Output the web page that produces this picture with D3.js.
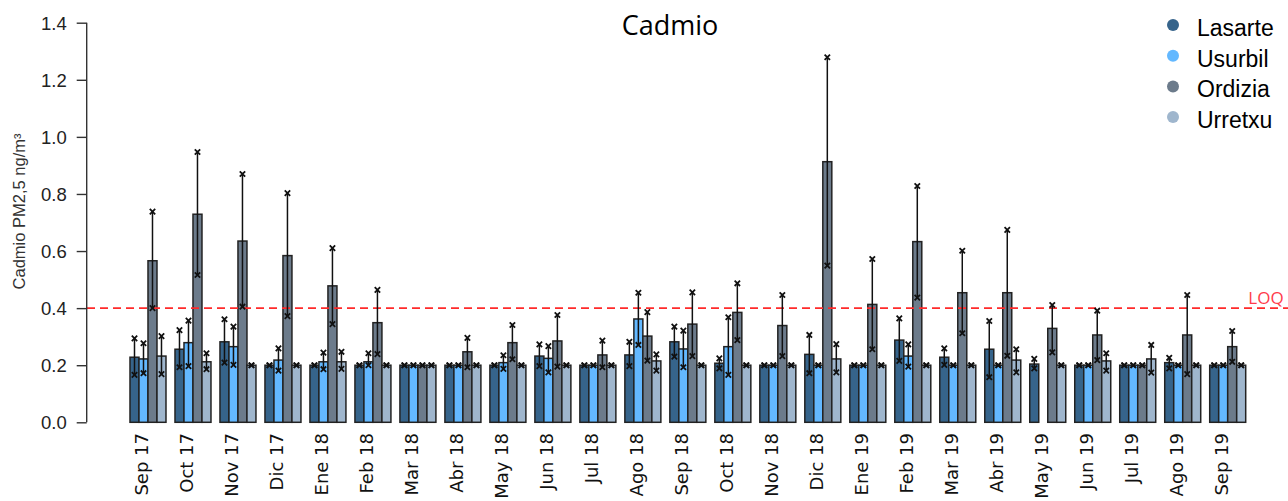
<!DOCTYPE html>
<html>
<head>
<meta charset="utf-8">
<script src="https://cdn.jsdelivr.net/npm/d3@7"></script>
<style>
  html, body { margin: 0; padding: 0; background: #fff; }
  svg { display: block; }
</style>
</head>
<body>
<svg id="chart" width="1288" height="501"></svg>
<script>
// Monthly cadmium (PM2.5) means per station, with min/max range
const months = ["Sep 17","Oct 17","Nov 17","Dic 17","Ene 18","Feb 18","Mar 18","Abr 18","May 18",
  "Jun 18","Jul 18","Ago 18","Sep 18","Oct 18","Nov 18","Dic 18","Ene 19","Feb 19","Mar 19",
  "Abr 19","May 19","Jun 19","Jul 19","Ago 19","Sep 19"];

const stations = ["Lasarte", "Usurbil", "Ordizia", "Urretxu"];
const stationColors = ["#36648B", "#63B8FF", "#6C7B8B", "#9FB6CD"];

const lasarte   = [0.228,0.256,0.282,0.2,0.2,0.2,0.2,0.2,0.2,0.232,0.2,0.236,0.282,0.207,0.2,0.238,0.2,0.288,0.228,0.256,0.204,0.2,0.2,0.209,0.2];
const lasarteLo = [0.166,0.193,0.209,0.2,0.2,0.2,0.2,0.2,0.2,0.197,0.2,0.197,0.230,0.189,0.2,0.172,0.2,0.215,0.201,0.158,0.189,0.2,0.2,0.189,0.2];
const lasarteHi = [0.294,0.323,0.361,0.2,0.2,0.2,0.2,0.2,0.2,0.273,0.2,0.282,0.335,0.224,0.2,0.306,0.2,0.364,0.259,0.355,0.222,0.2,0.2,0.226,0.2];

const usurbil   = [0.222,0.279,0.265,0.218,0.212,0.212,0.2,0.2,0.209,0.224,0.2,0.362,0.257,0.265,0.2,0.2,0.2,0.232,0.2,0.2,null,0.2,0.2,0.2,0.2];
const usurbilLo = [0.172,0.197,0.201,0.181,0.186,0.200,0.2,0.2,0.187,0.175,0.2,0.271,0.193,0.166,0.2,0.2,0.2,0.195,0.2,0.2,null,0.2,0.2,0.2,0.2];
const usurbilHi = [0.277,0.356,0.335,0.259,0.244,0.242,0.2,0.2,0.235,0.267,0.2,0.454,0.321,0.368,0.2,0.2,0.2,0.273,0.2,0.2,null,0.2,0.2,0.2,0.2];

const ordizia   = [0.566,0.729,0.635,0.584,0.478,0.349,0.2,0.247,0.279,0.285,0.236,0.302,0.344,0.385,0.339,0.913,0.413,0.633,0.454,0.454,0.329,0.306,0.2,0.306,0.265];
const ordiziaLo = [0.400,0.516,0.405,0.372,0.344,0.239,0.2,0.193,0.221,0.195,0.193,0.216,0.232,0.288,0.232,0.549,0.256,0.437,0.312,0.233,0.245,0.218,0.2,0.169,0.212];
const ordiziaHi = [0.738,0.947,0.870,0.803,0.610,0.464,0.2,0.296,0.341,0.376,0.286,0.386,0.455,0.487,0.446,1.279,0.572,0.828,0.601,0.674,0.411,0.391,0.2,0.446,0.320];

const urretxu   = [0.232,0.212,0.2,0.2,0.212,0.2,0.2,0.2,0.2,0.2,0.2,0.215,0.2,0.2,0.2,0.222,0.2,0.2,0.2,0.218,0.2,0.215,0.222,0.2,0.2];
const urretxuLo = [0.169,0.186,0.2,0.2,0.187,0.2,0.2,0.2,0.2,0.2,0.2,0.181,0.2,0.2,0.2,0.175,0.2,0.2,0.2,0.175,0.2,0.181,0.174,0.2,0.2];
const urretxuHi = [0.302,0.242,0.2,0.2,0.247,0.2,0.2,0.2,0.2,0.2,0.2,0.238,0.2,0.2,0.2,0.274,0.2,0.2,0.2,0.256,0.2,0.242,0.271,0.2,0.2];

const yTicks = [0, 0.2, 0.4, 0.6, 0.8, 1.0, 1.2, 1.4];
const loqValue = 0.4;

const seriesMean = [lasarte, usurbil, ordizia, urretxu];
const seriesLo   = [lasarteLo, usurbilLo, ordiziaLo, urretxuLo];
const seriesHi   = [lasarteHi, usurbilHi, ordiziaHi, urretxuHi];

// Flat records built from the arrays above
const records = [];
months.forEach((m, i) => {
  stations.forEach((s, j) => {
    if (seriesMean[j][i] != null) {
      records.push({ month: m, station: s, value: seriesMean[j][i], lo: seriesLo[j][i], hi: seriesHi[j][i], color: stationColors[j] });
    }
  });
});

const svg = d3.select("#chart");

const y = d3.scaleLinear().domain([0, 1.4]).range([422.3, 22.7]);
const x0 = d3.scaleBand().domain(months).range([125.5, 1250.2]).paddingInner(0.2).paddingOuter(0.1);
const x1 = d3.scaleBand().domain(stations).range([0, x0.bandwidth()]);

// Bars
svg.append("g").selectAll("rect").data(records).join("rect")
  .attr("x", d => x0(d.month) + x1(d.station))
  .attr("y", d => y(d.value))
  .attr("width", x1.bandwidth())
  .attr("height", d => y(0) - y(d.value))
  .attr("fill", d => d.color)
  .attr("stroke", "#222")
  .attr("stroke-width", 1.5);

// LOQ reference line
svg.append("line")
  .attr("x1", 87).attr("x2", 1288)
  .attr("y1", y(loqValue)).attr("y2", y(loqValue))
  .attr("stroke", "#ff2a2a").attr("stroke-width", 1.6)
  .attr("stroke-dasharray", "8,5");
svg.append("text")
  .attr("x", 1266).attr("y", y(loqValue) - 4)
  .attr("text-anchor", "middle")
  .attr("font-family", "'Open Sans', sans-serif")
  .attr("font-size", 17)
  .attr("fill", "#ff3b4b")
  .text("LOQ");

// Error bars (min–max range) with small cross caps
const eb = svg.append("g").attr("stroke", "#111").attr("fill", "none");
const cap = 2.7;
records.forEach(d => {
  const cx = x0(d.month) + x1(d.station) + x1.bandwidth() / 2;
  const yt = y(d.hi), yb = y(d.lo);
  eb.append("line").attr("x1", cx).attr("x2", cx).attr("y1", yt).attr("y2", yb).attr("stroke-width", 1.5);
  [yt, yb].forEach(yy => {
    eb.append("path")
      .attr("d", `M${cx - cap},${yy - cap}L${cx + cap},${yy + cap}M${cx - cap},${yy + cap}L${cx + cap},${yy - cap}`)
      .attr("stroke-width", 1.8);
  });
});

// Y axis
const yAxis = d3.axisLeft(y).tickValues(yTicks).tickFormat(d3.format(".1f")).tickSize(10).tickPadding(10);
const gy = svg.append("g").attr("transform", "translate(86.7,0)").call(yAxis);
gy.select(".domain").attr("d", `M0,${y(0)}V${y(1.4)}`).attr("stroke", "#333").attr("stroke-width", 1.4);
gy.selectAll(".tick line").attr("stroke", "#333").attr("stroke-width", 1.4);
gy.selectAll(".tick text")
  .attr("font-family", "'Liberation Sans', Arial, sans-serif")
  .attr("font-size", 18.5)
  .attr("fill", "#222")
  .attr("dy", "0.36em");

svg.append("text")
  .attr("transform", `translate(25,211.5) rotate(-90)`)
  .attr("text-anchor", "middle")
  .attr("font-family", "'Liberation Sans', Arial, sans-serif")
  .attr("font-size", 16.5)
  .attr("fill", "#333")
  .text("Cadmio PM2,5 ng/m³");

// X labels (rotated)
svg.append("g").selectAll("text").data(months).join("text")
  .attr("transform", d => `translate(${x0(d) + x0.bandwidth() / 2 + 0.5},433) rotate(-90)`)
  .attr("text-anchor", "end")
  .attr("font-family", "'DejaVu Sans', sans-serif")
  .attr("font-size", 18)
  .attr("fill", "#111")
  .text(d => d);

// Title
svg.append("text")
  .attr("x", 670).attr("y", 35)
  .attr("text-anchor", "middle")
  .attr("font-family", "'Open Sans', sans-serif")
  .attr("font-size", 27)
  .attr("fill", "#000")
  .text("Cadmio");

// Legend
const legend = svg.append("g");
stations.forEach((s, j) => {
  const ly = 25 + j * 30.7;
  legend.append("circle").attr("cx", 1173).attr("cy", ly).attr("r", 6).attr("fill", stationColors[j]);
  legend.append("text")
    .attr("x", 1197).attr("y", ly + 11)
    .attr("font-family", "'Liberation Sans', Arial, sans-serif")
    .attr("font-size", 23)
    .attr("fill", "#000")
    .text(s);
});
</script>
</body>
</html>
